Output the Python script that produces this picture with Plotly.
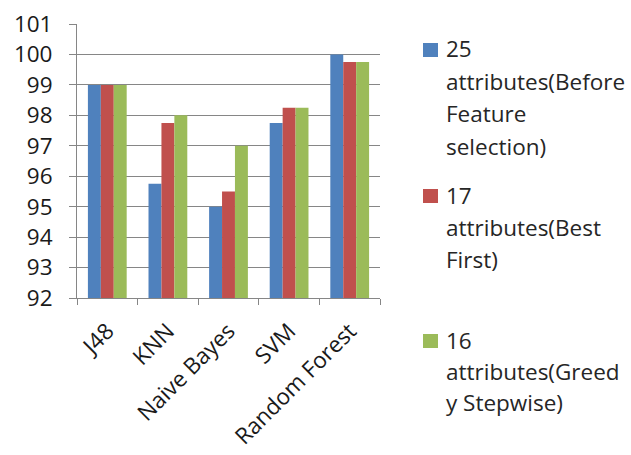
import plotly.graph_objects as go

categories = ["J48", "KNN", "Naive Bayes", "SVM", "Random Forest"]
series_names = [
    ["25", "attributes(Before", "Feature", "selection)"],
    ["17", "attributes(Best", "First)"],
    ["16", "attributes(Greed", "y Stepwise)"],
]
s25 = [99, 95.75, 95, 97.75, 100]
s17 = [99, 97.75, 95.5, 98.25, 99.75]
s16 = [99, 98, 97, 98.25, 99.75]
colors = ["#4F81BD", "#C0504D", "#9BBB59"]
y_ticks = list(range(92, 102))

W, H = 631, 455
L, R, T, B = 77, 380, 24, 298
FONT = "Open Sans"

fig = go.Figure()
for vals, name, col in zip([s25, s17, s16], series_names, colors):
    fig.add_trace(go.Bar(x=categories, y=[v - 92 for v in vals], base=92,
                         name=" ".join(name), marker=dict(color=col, line=dict(width=0)),
                         showlegend=False))

def px(x):
    return (x - L) / (R - L)

def py(y):
    return (B - y) / (B - T)

# custom legend
square_y = [50, 196, 341]
line_y = [[48, 81, 113, 146], [195, 227, 259], [340, 371, 402]]
for i, (lines, col) in enumerate(zip(series_names, colors)):
    cy = square_y[i]
    fig.add_shape(type="rect", xref="paper", yref="paper",
                  x0=px(423), x1=px(438), y0=py(cy - 7), y1=py(cy + 7),
                  fillcolor=col, line=dict(width=0))
    for txt, ly in zip(lines, line_y[i]):
        fig.add_annotation(text=txt, xref="paper", yref="paper", x=px(444), y=py(ly),
                           xanchor="left", yanchor="middle", showarrow=False,
                           font=dict(family=FONT, size=22.5, color="#262626"))

fig.update_layout(
    width=W, height=H,
    margin=dict(l=L, r=W - R, t=T, b=H - B, pad=0),
    paper_bgcolor="white", plot_bgcolor="white",
    barmode="group", bargap=0.36, bargroupgap=0,
    font=dict(family=FONT, size=22, color="#1a1a1a"),
)
fig.update_xaxes(showline=True, linecolor="#868686", linewidth=1,
                 ticks="outside", tickson="boundaries", ticklen=6, tickcolor="#868686",
                 tickangle=-45, tickfont=dict(size=22.5, family=FONT), ticklabelstandoff=10,
                 showgrid=False, range=[-0.5, 4.5], automargin=False)
fig.update_yaxes(range=[92, 101], tickvals=y_ticks, showline=True, linecolor="#868686",
                 linewidth=1, ticks="outside", ticklen=7, tickcolor="#868686",
                 showgrid=True, gridcolor="#868686", gridwidth=1,
                 tickfont=dict(size=22.5, family=FONT), ticklabelstandoff=12,
                 zeroline=False, automargin=False)

fig.write_html("out.html")
